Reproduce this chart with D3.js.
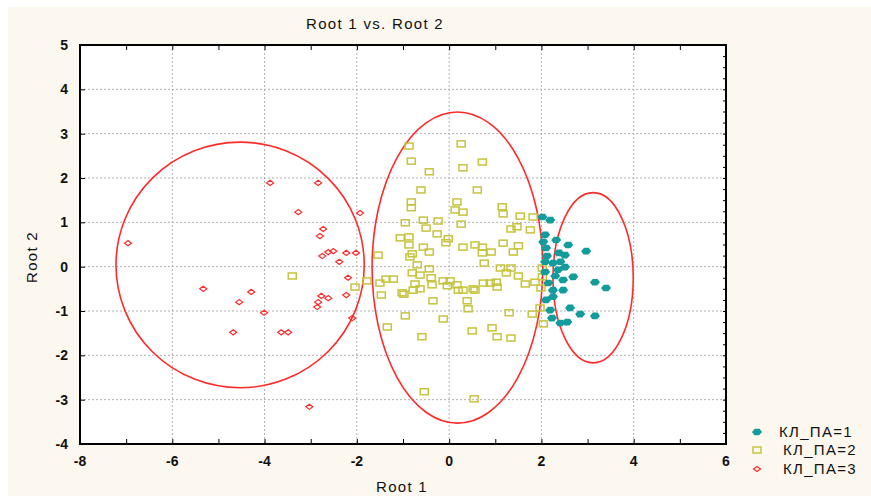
<!DOCTYPE html>
<html>
<head>
<meta charset="utf-8">
<script src="https://cdn.jsdelivr.net/npm/d3@7"></script>
<style>
body { margin: 0; background: #fff; }
svg text { font-family: "Liberation Sans", Arial, sans-serif; fill: #111; }
.axis path { display: none; }
.axis line { stroke: #000; }
</style>
</head>
<body>
<svg id="chart" width="871" height="496"></svg>
<script>
// discriminant scores
var group1 = [[2.02,1.12],[2.19,1.05],[2.32,0.60],[2.58,0.49],[2.38,0.31],[2.10,0.42],[2.97,0.35],
  [2.08,0.11],[2.25,0.08],[2.51,-0.01],[2.36,-0.07],[2.69,-0.23],[2.47,-0.30],[3.16,-0.35],
  [3.40,-0.48],[2.25,-0.53],[2.25,-0.68],[2.62,-0.93],[2.84,-1.07],[3.16,-1.11],[2.23,-1.16],
  [2.56,-1.25],[2.41,-1.27],[2.08,0.72],[2.12,0.24],[2.08,-0.12],[2.15,-0.37],[2.10,-0.75],
  [2.19,-0.98],[2.04,0.56],[2.41,0.11],[2.30,-0.21],[2.51,0.26],[2.47,-0.53]];
var group2 = [[-0.87,2.72],[0.26,2.77],[-0.82,2.38],[0.72,2.36],[-0.43,2.14],[0.30,2.23],
  [-0.61,1.73],[0.61,1.73],[-0.82,1.46],[-0.82,1.33],[0.17,1.46],[0.13,1.28],[0.30,1.23],
  [1.15,1.35],[1.17,1.19],[1.54,1.14],[1.82,1.12],[-0.95,0.99],[-0.56,1.05],[-0.50,0.87],
  [-0.24,1.03],[0.26,0.96],[-0.26,0.74],[-0.02,0.63],[-0.07,0.54],[-1.06,0.65],[-0.87,0.67],
  [-0.87,0.49],[-0.56,0.44],[-0.43,0.33],[-0.80,0.29],[-0.85,0.22],[0.30,0.44],[0.56,0.49],
  [0.72,0.44],[0.72,0.31],[0.91,0.33],[1.17,0.53],[1.50,0.47],[1.39,0.33],[1.34,0.85],
  [1.47,0.90],[1.76,0.83],[-1.54,0.26],[-0.69,0.04],[-0.43,-0.05],[0.76,0.08],[1.11,-0.03],
  [1.34,-0.03],[1.24,-0.14],[-0.80,-0.14],[-0.63,-0.19],[-0.39,-0.25],[-1.78,-0.32],
  [-1.50,-0.37],[-1.37,-0.28],[-1.21,-0.28],[-0.74,-0.39],[-0.63,-0.50],[-1.02,-0.59],
  [-0.98,-0.62],[-0.78,-0.53],[-0.37,-0.41],[-0.13,-0.32],[0.02,-0.32],[-0.04,-0.43],
  [0.17,-0.41],[0.20,-0.53],[0.30,-0.53],[0.52,-0.50],[0.56,-0.53],[0.74,-0.37],[0.89,-0.37],
  [1.02,-0.35],[1.04,-0.46],[1.50,-0.21],[1.65,-0.39],[1.86,-0.35],[2.02,-0.03],[2.02,-0.23],
  [-1.47,-0.64],[-0.35,-0.77],[0.39,-0.77],[0.41,-0.95],[-0.95,-1.11],[-0.13,-1.18],
  [1.30,-1.04],[1.80,-1.07],[1.97,-0.93],[-1.34,-1.36],[-0.59,-1.58],[0.50,-1.45],[0.93,-1.38],
  [1.04,-1.58],[1.34,-1.61],[2.04,-1.29],[-0.54,-2.82],[0.54,-2.98],[-3.40,-0.21],[-2.04,-0.46],
  [1.99,-0.48]];
var group3 = [[-3.88,1.89],[-2.84,1.89],[-3.27,1.23],[-6.96,0.53],[-2.73,0.85],[-2.80,0.69],
  [-2.75,0.24],[-2.62,0.33],[-2.51,0.35],[-2.23,0.31],[-2.02,0.31],[-2.38,0.11],[-2.19,-0.25],
  [-5.33,-0.50],[-4.29,-0.57],[-4.55,-0.80],[-4.01,-1.04],[-2.77,-0.66],[-2.62,-0.71],
  [-2.84,-0.80],[-2.86,-0.91],[-2.23,-0.64],[-2.10,-1.16],[-4.68,-1.48],[-3.64,-1.48],
  [-3.49,-1.48],[-3.03,-3.16],[-1.93,1.21]];

// confidence ellipses: centre x, centre y, radius x, radius y
var ellCx = [3.12, 0.18, -4.53];
var ellCy = [-0.25, -0.02, 0.04];
var ellRx = [0.87, 1.85, 2.69];
var ellRy = [1.92, 3.51, 2.77];

var legendLabels = ["КЛ_ПА=1", "КЛ_ПА=2", "КЛ_ПА=3"];
var xTicks = [-8, -6, -4, -2, 0, 2, 4, 6];
var yTicks = [-4, -3, -2, -1, 0, 1, 2, 3, 4, 5];

var teal = "#139c9c", olive = "#c6c43e", red = "#ff2a2a";

var svg = d3.select("#chart");
svg.append("rect").attr("x", 8).attr("y", 7).attr("width", 863).attr("height", 489).attr("fill", "#fcf8f0");

var x = d3.scaleLinear().domain([-8, 6]).range([80, 726]);
var y = d3.scaleLinear().domain([-4, 5]).range([444, 45]);

svg.append("rect").attr("x", 80).attr("y", 45).attr("width", 646).attr("height", 399).attr("fill", "#fff");

// dotted grid
var grid = svg.append("g").attr("stroke", "#b0b0b0").attr("stroke-dasharray", "2,2").attr("stroke-width", 1);
grid.selectAll(".gx").data(xTicks.slice(1, -1)).enter().append("line")
  .attr("x1", function(d) { return x(d); }).attr("x2", function(d) { return x(d); })
  .attr("y1", 45).attr("y2", 444);
grid.selectAll(".gy").data(yTicks.slice(1, -1)).enter().append("line")
  .attr("y1", function(d) { return y(d); }).attr("y2", function(d) { return y(d); })
  .attr("x1", 80).attr("x2", 726);

// inward ticks on all four sides
svg.append("g").attr("class", "axis").attr("transform", "translate(0,444)")
  .call(d3.axisBottom(x).ticks(14).tickSize(-5).tickFormat(""));
svg.append("g").attr("class", "axis").attr("transform", "translate(0,45)")
  .call(d3.axisTop(x).ticks(14).tickSize(-5).tickFormat(""));
svg.append("g").attr("class", "axis").attr("transform", "translate(80,0)")
  .call(d3.axisLeft(y).ticks(9).tickSize(-5).tickFormat(""));
svg.append("g").attr("class", "axis").attr("transform", "translate(726,0)")
  .call(d3.axisRight(y).tickValues(d3.range(-4, 5.01, 0.25)).tickSize(-3).tickFormat(""));

// tick labels
svg.append("g").selectAll("text").data(xTicks).enter().append("text")
  .attr("x", function(d) { return x(d); }).attr("y", 466)
  .attr("text-anchor", "middle").attr("font-size", 14).attr("font-weight", "bold")
  .text(function(d) { return d; });
svg.append("g").selectAll("text").data(yTicks).enter().append("text")
  .attr("x", 68).attr("y", function(d) { return y(d) + 5; })
  .attr("text-anchor", "end").attr("font-size", 14).attr("font-weight", "bold")
  .text(function(d) { return d; });

// frame
svg.append("rect").attr("x", 80).attr("y", 45).attr("width", 646).attr("height", 399)
  .attr("fill", "none").attr("stroke", "#000").attr("stroke-width", 2);

// titles
svg.append("text").attr("x", 375).attr("y", 29).attr("text-anchor", "middle")
  .attr("font-size", 15).attr("letter-spacing", 1.3).text("Root 1 vs. Root 2");
svg.append("text").attr("x", 402).attr("y", 492).attr("text-anchor", "middle")
  .attr("font-size", 15).attr("letter-spacing", 1.3).text("Root 1");
svg.append("text").attr("transform", "translate(37,257) rotate(-90)").attr("text-anchor", "middle")
  .attr("font-size", 15).attr("letter-spacing", 1.3).text("Root 2");

// ellipses
svg.append("g").selectAll("ellipse").data(ellCx).enter().append("ellipse")
  .attr("cx", function(d) { return x(d); })
  .attr("cy", function(d, i) { return y(ellCy[i]); })
  .attr("rx", function(d, i) { return x(d + ellRx[i]) - x(d); })
  .attr("ry", function(d, i) { return y(ellCy[i] - ellRy[i]) - y(ellCy[i]); })
  .attr("fill", "none").attr("stroke", red).attr("stroke-width", 1.6);

// markers
var hexPath = "M-5,0L-2.2,-3.3L2.7,-3.3L5,0L2.2,3.3L-2.7,3.3Z";
var diaPath = "M-3.5,0L0,-2.6L3.5,0L0,2.6Z";

svg.append("g").selectAll("rect").data(group2).enter().append("rect")
  .attr("x", function(d) { return x(d[0]) - 4; })
  .attr("y", function(d) { return y(d[1]) - 3; })
  .attr("width", 8).attr("height", 6)
  .attr("fill", "none").attr("stroke", olive).attr("stroke-width", 1.5);

svg.append("g").selectAll("path").data(group3).enter().append("path")
  .attr("transform", function(d) { return "translate(" + x(d[0]) + "," + y(d[1]) + ")"; })
  .attr("d", diaPath).attr("fill", "none").attr("stroke", red).attr("stroke-width", 1.2);

svg.append("g").selectAll("path").data(group1).enter().append("path")
  .attr("transform", function(d) { return "translate(" + x(d[0]) + "," + y(d[1]) + ")"; })
  .attr("d", hexPath).attr("fill", teal);

// legend
var legendY = [432, 450, 469];
var legendX = [779, 783, 783];
var lg = svg.append("g");
lg.append("path").attr("transform", "translate(757," + legendY[0] + ")").attr("d", hexPath).attr("fill", teal);
lg.append("rect").attr("x", 753).attr("y", legendY[1] - 3).attr("width", 8).attr("height", 6)
  .attr("fill", "none").attr("stroke", olive).attr("stroke-width", 1.5);
lg.append("path").attr("transform", "translate(757," + legendY[2] + ")").attr("d", diaPath)
  .attr("fill", "none").attr("stroke", red).attr("stroke-width", 1.2);
lg.selectAll("text").data(legendLabels).enter().append("text")
  .attr("x", function(d, i) { return legendX[i]; })
  .attr("y", function(d, i) { return legendY[i] + 5; })
  .attr("font-size", 15).attr("letter-spacing", 1.3)
  .text(function(d) { return d; });
</script>
</body>
</html>
